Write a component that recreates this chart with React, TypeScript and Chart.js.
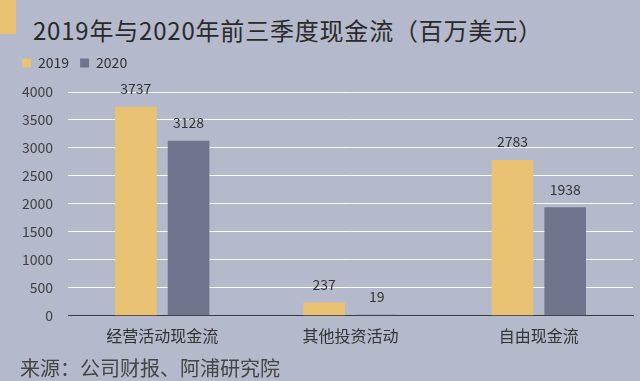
import React, { useEffect, useRef } from 'react';
import { Chart, registerables } from 'chart.js';

Chart.register(...registerables);

const categories = ['经营活动现金流', '其他投资活动', '自由现金流'];
const seriesNames = ['2019', '2020'];
const values2019 = [3737, 237, 2783];
const values2020 = [3128, 19, 1938];
const yMin = 0;
const yMax = 4000;
const yStep = 500;

const titleText = '2019年与2020年前三季度现金流（百万美元）';
const sourceText = '来源：公司财报、阿浦研究院';

const FONT = '"Noto Sans CJK SC", "Noto Sans", sans-serif';
const BG = '#B4B9CC';
const YELLOW = '#E9C373';
const GREY = '#70758D';

const valueLabels = {
  id: 'valueLabels',
  afterDatasetsDraw(chart: any) {
    const ctx = chart.ctx;
    ctx.save();
    ctx.font = `14px ${FONT}`;
    ctx.fillStyle = '#333333';
    ctx.textAlign = 'center';
    ctx.textBaseline = 'middle';
    chart.data.datasets.forEach((ds: any, i: number) => {
      chart.getDatasetMeta(i).data.forEach((el: any, j: number) => {
        ctx.fillText(String(ds.data[j]), el.x, el.y - 18);
      });
    });
    ctx.restore();
  },
};

const legendSpacer = {
  id: 'legendSpacer',
  beforeInit(chart: any) {
    const legend = chart.legend;
    if (!legend) return;
    const origFit = legend.fit;
    legend.fit = function () {
      origFit.call(this);
      this.height += 12;
    };
  },
};

export default function App() {
  const canvasRef = useRef<HTMLCanvasElement | null>(null);

  useEffect(() => {
    if (!canvasRef.current) return;
    const chart = new Chart(canvasRef.current, {
      type: 'bar',
      data: {
        labels: categories,
        datasets: [
          { label: seriesNames[0], data: values2019, backgroundColor: YELLOW, categoryPercentage: 0.56, barPercentage: 0.79 },
          { label: seriesNames[1], data: values2020, backgroundColor: GREY, categoryPercentage: 0.56, barPercentage: 0.79 },
        ],
      },
      options: {
        animation: false,
        responsive: false,
        maintainAspectRatio: false,
        layout: { padding: { left: 11, right: 7, top: 45, bottom: 24 } },
        plugins: {
          legend: {
            display: true,
            position: 'top',
            align: 'start',
            labels: {
              boxWidth: 9,
              boxHeight: 9,
              padding: 11,
              color: '#333333',
              font: { family: FONT, size: 14 },
            },
          },
          title: { display: false },
          tooltip: { enabled: false },
        },
        scales: {
          x: {
            grid: { display: false, drawTicks: false },
            border: { display: true, color: '#3A3A3A', width: 1 },
            ticks: { color: '#333333', padding: 11, font: { family: FONT, size: 16 } },
          },
          y: {
            min: yMin,
            max: yMax,
            afterFit: (scale: any) => { scale.width = 57; },
            grid: { color: '#FFFFFF', lineWidth: 1, drawTicks: false },
            border: { display: false },
            ticks: {
              stepSize: yStep,
              color: '#404040',
              padding: 15,
              font: { family: FONT, size: 14 },
              callback: (v: any) => String(v),
            },
          },
        },
      },
      plugins: [legendSpacer, valueLabels],
    });
    return () => chart.destroy();
  }, []);

  return (
    <div style={{ position: 'fixed', left: 0, top: 0, width: 640, height: 381, background: BG, overflow: 'hidden' }}>
      <div style={{ position: 'absolute', left: 0, top: 0, width: 16, height: 34, background: YELLOW }} />
      <div style={{ position: 'absolute', left: 33, top: 14, fontFamily: FONT, fontSize: 24, lineHeight: '32px', letterSpacing: '0.8px', color: '#2A2A2A', whiteSpace: 'nowrap' }}>
        {titleText}
      </div>
      <canvas ref={canvasRef} width={640} height={381} style={{ position: 'absolute', left: 0, top: 0 }} />
      <div style={{ position: 'absolute', left: 20, top: 355, fontFamily: FONT, fontSize: 20, lineHeight: '26px', color: '#444444', whiteSpace: 'nowrap' }}>
        {sourceText}
      </div>
    </div>
  );
}
